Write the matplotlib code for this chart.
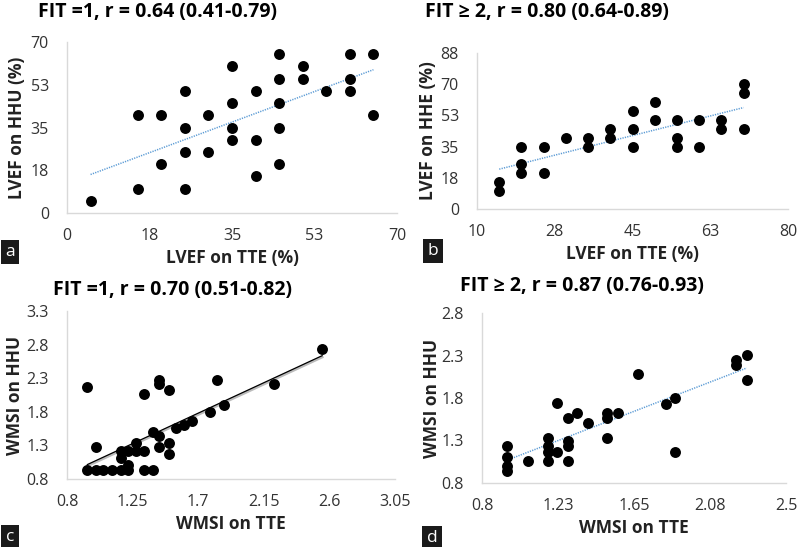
import numpy as np
import matplotlib
matplotlib.use("Agg")
import matplotlib.pyplot as plt

# ======================
# Data
# ======================
# a: LVEF, FIT = 1
a_x = [5, 15, 15, 20, 20, 25, 25, 25, 25, 30, 30, 35, 35, 35, 35, 40, 40, 40,
       45, 45, 45, 45, 45, 50, 50, 55, 60, 60, 60, 65, 65]
a_y = [5, 40, 10, 40, 20, 50, 35, 25, 10, 40, 25, 60, 45, 35, 30, 50, 30, 15,
       65, 55, 45, 35, 20, 60, 55, 50, 65, 55, 50, 65, 40]

# b: LVEF, FIT >= 2
b_x = [15, 15, 20, 20, 20, 25, 25, 30, 35, 35, 40, 40, 45, 45, 45, 50, 50,
       55, 55, 55, 60, 60, 65, 65, 70, 70, 70]
b_y = [15, 10, 35, 25, 20, 35, 20, 40, 40, 35, 45, 40, 55, 45, 35, 60, 50,
       50, 40, 35, 50, 35, 50, 45, 70, 65, 45]

# c: WMSI, FIT = 1
c_x = [0.94, 0.94, 1.00, 1.00, 1.05, 1.11, 1.17, 1.17, 1.17, 1.22, 1.22, 1.22,
       1.27, 1.27, 1.33, 1.33, 1.33, 1.39, 1.39, 1.43, 1.43, 1.43, 1.43,
       1.50, 1.50, 1.50, 1.55, 1.60, 1.66, 1.78, 1.83, 1.88, 2.22, 2.55]
c_y = [0.94, 2.17, 0.94, 1.28, 0.94, 0.94, 0.94, 1.11, 1.22, 0.94, 1.01, 1.22,
       1.33, 1.22, 1.22, 0.94, 2.06, 0.94, 1.50, 2.28, 2.22, 1.44, 1.28,
       2.12, 1.33, 1.17, 1.56, 1.61, 1.67, 1.79, 2.28, 1.90, 2.22, 2.73]

# d: WMSI, FIT >= 2
d_x = [0.94, 0.94, 0.94, 0.94, 1.06, 1.17, 1.17, 1.17, 1.17, 1.22, 1.22,
       1.28, 1.28, 1.28, 1.28, 1.33, 1.39, 1.50, 1.50, 1.50, 1.56, 1.67,
       1.83, 1.88, 1.88, 2.22, 2.22, 2.28, 2.28]
d_y = [1.23, 1.11, 1.00, 0.94, 1.06, 1.33, 1.23, 1.17, 1.06, 1.74, 1.17,
       1.57, 1.29, 1.23, 1.06, 1.62, 1.51, 1.62, 1.56, 1.33, 1.62, 2.08,
       1.73, 1.80, 1.17, 2.25, 2.19, 2.31, 2.01]

panels = [
    dict(x=a_x, y=a_y, box=(67, 397, 42, 213),
         xlim=(0, 70), xt=[0, 17.5, 35, 52.5, 70], xl=['0', '18', '35', '53', '70'],
         ylim=(0, 70), yt=[0, 17.5, 35, 52.5, 70], yl=['0', '18', '35', '53', '70'],
         xlabel='LVEF on TTE (%)', ylabel='LVEF on HHU (%)',
         title='FIT =1, r = 0.64 (0.41-0.79)', tpos=(38, 12),
         fit='dotted', tag='a', tagpos=(0, 242), ylx=17),
    dict(x=b_x, y=b_y, box=(477, 788, 53, 209),
         xlim=(10, 80), xt=[10, 27.5, 45, 62.5, 80], xl=['10', '28', '45', '63', '80'],
         ylim=(0, 87.5), yt=[0, 17.5, 35, 52.5, 70, 87.5],
         yl=['0', '18', '35', '53', '70', '88'],
         xlabel='LVEF on TTE (%)', ylabel='LVEF on HHE (%)',
         title='FIT \u2265 2, r = 0.80 (0.64-0.89)', tpos=(425, 12),
         fit='dotted', tag='b', tagpos=(423, 241), ylx=428),
    dict(x=c_x, y=c_y, box=(67, 395, 311, 479),
         xlim=(0.8, 3.05), xt=[0.8, 1.25, 1.7, 2.15, 2.6, 3.05],
         xl=['0.8', '1.25', '1.7', '2.15', '2.6', '3.05'],
         ylim=(0.8, 3.3), yt=[0.8, 1.3, 1.8, 2.3, 2.8, 3.3],
         yl=['0.8', '1.3', '1.8', '2.3', '2.8', '3.3'],
         xlabel='WMSI on TTE', ylabel='WMSI on HHU',
         title='FIT =1, r = 0.70 (0.51-0.82)', tpos=(53, 290),
         fit='solid', tag='c', tagpos=(0, 527), ylx=15),
    dict(x=d_x, y=d_y, box=(482, 786, 313, 483),
         xlim=(0.8, 2.5), xt=[0.8, 1.225, 1.65, 2.075, 2.5],
         xl=['0.8', '1.23', '1.65', '2.08', '2.5'],
         ylim=(0.8, 2.8), yt=[0.8, 1.3, 1.8, 2.3, 2.8],
         yl=['0.8', '1.3', '1.8', '2.3', '2.8'],
         xlabel='WMSI on TTE', ylabel='WMSI on HHU',
         title='FIT \u2265 2, r = 0.87 (0.76-0.93)', tpos=(460, 286),
         fit='dotted', tag='d', tagpos=(422, 528), ylx=432),
]

W, H = 798, 547
plt.rcParams['font.family'] = ['Open Sans', 'DejaVu Sans']

fig = plt.figure(figsize=(W / 100, H / 100), dpi=100)
fig.patch.set_facecolor('white')

for p in panels:
    x0, x1, y0, y1 = p['box']
    ax = fig.add_axes([x0 / W, 1 - y1 / H, (x1 - x0) / W, (y1 - y0) / H])
    x = np.array(p['x'])
    y = np.array(p['y'])

    # least squares trendline over the data range
    k, b = np.polyfit(x, y, 1)
    xs = np.array([x.min(), x.max()])
    if p['fit'] == 'dotted':
        ax.plot(xs, k * xs + b, color='#5b9bd5', lw=1.1, ls=(0, (0.8, 0.8)), zorder=1)
    else:
        ax.plot(xs, k * xs + b - 0.02, color='#bbbbbb', lw=2.0, zorder=1)
        ax.plot(xs, k * xs + b, color='black', lw=0.9, zorder=2)

    ax.scatter(x, y, s=62, color='black', zorder=3, clip_on=False, linewidths=0)

    ax.set_xlim(*p['xlim'])
    ax.set_ylim(*p['ylim'])
    ax.set_xticks(p['xt'])
    ax.set_xticklabels(p['xl'])
    ax.set_yticks(p['yt'])
    ax.set_yticklabels(p['yl'])
    ax.tick_params(length=0, labelsize=11.5, colors='#333333')
    ax.tick_params(axis='x', pad=11)
    ax.tick_params(axis='y', pad=13)
    for s in ['top', 'right']:
        ax.spines[s].set_visible(False)
    for s in ['left', 'bottom']:
        ax.spines[s].set_color('#d9d9d9')
        ax.spines[s].set_linewidth(1.0)

    cx = (x0 + x1) / 2
    fig.text(cx / W, 1 - (y1 + 45) / H, p['xlabel'], ha='center', va='center',
             fontsize=12.5, fontweight='bold', color='#222222')
    fig.text(p['ylx'] / W, 1 - ((y0 + y1) / 2) / H, p['ylabel'], ha='center',
             va='center', rotation=90, fontsize=12.5, fontweight='bold',
             color='#222222')

    tx, ty = p['tpos']
    fig.text(tx / W, 1 - ty / H, p['title'], ha='left', va='center',
             fontsize=14, fontweight='bold', color='black')

    gx, gy = p['tagpos']
    fig.text((gx + 10) / W, 1 - (gy + 10) / H, p['tag'], ha='center', va='center',
             fontsize=12.5, color='white',
             bbox=dict(boxstyle='square,pad=0.25', fc='#1a1a1a', ec='none'))

fig.savefig('out.png', dpi=100, facecolor='white')
